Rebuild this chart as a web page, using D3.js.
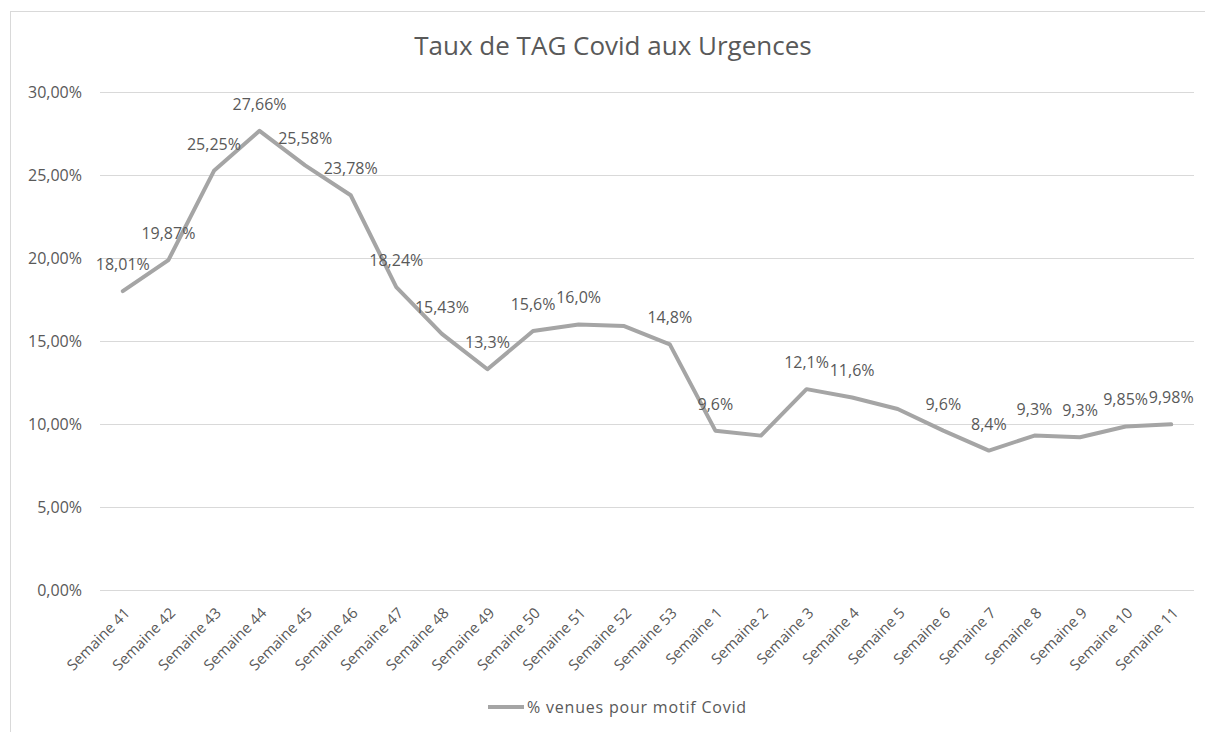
<!DOCTYPE html>
<html>
<head>
<meta charset="utf-8">
<script src="https://cdn.jsdelivr.net/npm/d3@7"></script>
<style>
  body { margin: 0; background: #fff; }
  text { font-family: "Open Sans", "Noto Sans", sans-serif; fill: #595959; }
</style>
</head>
<body>
<div id="chart"></div>
<script>
// weeks on the x axis
var weeks = ["Semaine 41", "Semaine 42", "Semaine 43", "Semaine 44", "Semaine 45", "Semaine 46",
  "Semaine 47", "Semaine 48", "Semaine 49", "Semaine 50", "Semaine 51", "Semaine 52", "Semaine 53",
  "Semaine 1", "Semaine 2", "Semaine 3", "Semaine 4", "Semaine 5", "Semaine 6", "Semaine 7",
  "Semaine 8", "Semaine 9", "Semaine 10", "Semaine 11"];

// % venues pour motif Covid
var rates = [18.01, 19.87, 25.25, 27.66, 25.58, 23.78, 18.24, 15.43, 13.3, 15.6, 16.0, 15.9, 14.8,
  9.6, 9.3, 12.1, 11.6, 10.9, 9.6, 8.4, 9.3, 9.2, 9.85, 9.98];

// data labels as shown (null = no label)
var rateLabels = ["18,01%", "19,87%", "25,25%", "27,66%", "25,58%", "23,78%", "18,24%", "15,43%",
  "13,3%", "15,6%", "16,0%", null, "14,8%", "9,6%", null, "12,1%", "11,6%", null, "9,6%", "8,4%",
  "9,3%", "9,3%", "9,85%", "9,98%"];

var yTicks = [0, 5, 10, 15, 20, 25, 30];

var W = 1205, H = 732;
var lineColor = "#a5a5a5";

var svg = d3.select("#chart").append("svg")
  .attr("width", W)
  .attr("height", H);

// chart border
svg.append("rect")
  .attr("x", 10.5).attr("y", 11.5)
  .attr("width", W).attr("height", H)
  .attr("fill", "none")
  .attr("stroke", "#d9d9d9");

var xScale = d3.scaleBand().domain(weeks).range([100, 1194]);
var yScale = d3.scaleLinear().domain([0, 30]).range([590, 92]);
var xMid = function(w) { return xScale(w) + xScale.bandwidth() / 2; };

// title
svg.append("text")
  .attr("x", 613).attr("y", 55)
  .attr("text-anchor", "middle")
  .style("font-size", "26px")
  .text("Taux de TAG Covid aux Urgences");

// gridlines + y labels
var fmtY = function(v) { return d3.format(".2f")(v).replace(".", ",") + "%"; };

var yAxis = svg.append("g")
  .attr("transform", "translate(100,0)")
  .call(d3.axisLeft(yScale).tickValues(yTicks).tickSize(-1094).tickFormat(fmtY).tickPadding(18));
yAxis.select(".domain").remove();
yAxis.selectAll(".tick line").attr("stroke", "#d9d9d9");
yAxis.selectAll(".tick text")
  .style("font-size", "16px")
  .style("font-family", "'Open Sans', sans-serif")
  .attr("fill", "#595959");

// x labels
var xAxis = svg.append("g")
  .attr("transform", "translate(0,590)")
  .call(d3.axisBottom(xScale).tickSize(0).tickPadding(0));
xAxis.select(".domain").remove();
xAxis.selectAll(".tick text")
  .style("font-size", "15px")
  .style("font-family", "'Open Sans', sans-serif")
  .attr("fill", "#595959")
  .attr("text-anchor", "end")
  .attr("dy", "0")
  .attr("transform", "translate(8,24) rotate(-45)");

// line
var line = d3.line()
  .x(function(d, i) { return xMid(weeks[i]); })
  .y(function(d) { return yScale(d); });

svg.append("path")
  .datum(rates)
  .attr("d", line)
  .attr("fill", "none")
  .attr("stroke", lineColor)
  .attr("stroke-width", 4)
  .attr("stroke-linejoin", "round")
  .attr("stroke-linecap", "round");

// data labels
var labelled = weeks.map(function(w, i) { return { week: w, value: rates[i], label: rateLabels[i] }; })
  .filter(function(d) { return d.label !== null; });

svg.append("g")
  .selectAll("text")
  .data(labelled)
  .join("text")
  .attr("x", function(d) { return xMid(d.week); })
  .attr("y", function(d) { return yScale(d.value) - 21; })
  .attr("text-anchor", "middle")
  .style("font-size", "16px")
  .text(function(d) { return d.label; });

// legend
svg.append("line")
  .attr("x1", 488).attr("x2", 524)
  .attr("y1", 707).attr("y2", 707)
  .attr("stroke", lineColor)
  .attr("stroke-width", 4);

svg.append("text")
  .attr("x", 527).attr("y", 713)
  .style("font-size", "16px")
  .style("letter-spacing", "0.8px")
  .text("% venues pour motif Covid");
</script>
</body>
</html>
